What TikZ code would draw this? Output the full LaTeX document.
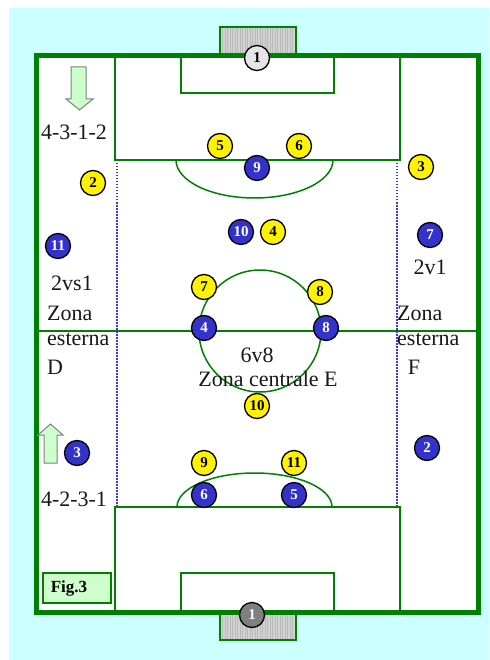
\documentclass[tikz,border=0pt]{standalone}
\usepackage{fontspec}
\setmainfont{Liberation Serif}
\definecolor{bgcyan}{HTML}{CCFFFF}
\definecolor{fgreen}{HTML}{008000}
\definecolor{pblue}{HTML}{3333CC}
\definecolor{zblue}{HTML}{3838E8}
\definecolor{agreen}{HTML}{CCFFCC}
\begin{document}
\begin{tikzpicture}[x=1pt,y=-1pt,
  fieldline/.style={draw=fgreen, line width=2pt},
  player/.style={circle, draw=black, line width=1.3pt, minimum size=25pt, inner sep=0pt,
    font=\fontsize{15}{15}\selectfont\bfseries},
  yel/.style={player, fill=yellow, text=black},
  blu/.style={player, fill=pblue, text=white},
  lbl/.style={font=\fontsize{22}{22}\selectfont, inner sep=0pt, text=black!90},
  zone/.style={draw=zblue, line width=1.2pt, dash pattern=on 1.5pt off 1.5pt},
  arrowshape/.style={draw=gray, fill=agreen, line width=1pt},
  figbox/.style={draw=fgreen, fill=agreen, line width=1.5pt, minimum height=30pt,
    text width=52pt, inner xsep=8pt, align=left, font=\fontsize{17}{17}\selectfont\bfseries}
]
\useasboundingbox (0,0) rectangle (489,660);
\fill[bgcyan] (9,8) rectangle (489,660);
% field
\fill[white] (36.5,55.5) rectangle (478.5,612);
% goals
\foreach \gy/\gh in {27/55.5,612/640}{
  \fill[gray!35] (220,\gy) rectangle (296,\gh);
  \foreach \sx in {222.5,225,...,294}{\draw[gray!55,line width=0.6pt] (\sx,\gy) -- (\sx,\gh);}
  \draw[fgreen,line width=2pt] (220,\gy) rectangle (296,\gh);
}
% zone lines
\draw[zone] (117,160) -- (117,507);
\draw[zone] (397,160) -- (397,507);
% penalty and goal areas
\draw[fieldline] (115,55.5) rectangle (400,160);
\draw[fieldline] (181,55.5) rectangle (334,93);
\draw[fieldline] (115,507) rectangle (400,612);
\draw[fieldline] (181,573) rectangle (334,612);
% arcs
\draw[fgreen,line width=1.5pt] (176,160) arc[start angle=180,end angle=360,x radius=78.5pt,y radius=38pt];
\draw[fgreen,line width=1.5pt] (177,507) arc[start angle=180,end angle=0,x radius=77.5pt,y radius=34pt];
% halfway line and centre circle
\draw[fieldline] (39,331) -- (476,331);
\draw[fgreen,line width=1.5pt] (260,331) circle[radius=61pt];
% border
\draw[fgreen,line width=5pt] (36.5,55.5) rectangle (478.5,612);
% arrows
\draw[arrowshape] (71,67) -- (86,67) -- (86,99) -- (93,99) -- (79.5,110) -- (66,99) -- (71,99) -- cycle;
\draw[arrowshape] (44,463) -- (57,463) -- (57,435) -- (63,435) -- (50.5,424) -- (38,435) -- (44,435) -- cycle;
% labels
\node[lbl] (f1) at (74,132) {4-3-1-2};
\node[lbl] (f2) at (74,499) {4-2-3-1};
\node[lbl] (t1) at (72,283) {2vs1};
\node[lbl,anchor=west] (zl1) at (47,313) {Zona};
\node[lbl,anchor=west] (zl2) at (47,339) {esterna};
\node[lbl,anchor=west] (zl3) at (47,367) {D};
\node[lbl] (t2) at (430,267) {2v1};
\node[lbl,anchor=west] (zr1) at (397,313) {Zona};
\node[lbl,anchor=west] (zr2) at (397,339) {esterna};
\node[lbl] (zr3) at (414,367) {F};
\node[lbl] (c1) at (257,355) {6v8};
\node[lbl] (c2) at (268,379) {Zona centrale E};
\node[figbox,anchor=west] (fig) at (42,588) {Fig.3};
% goalkeepers
\node[player, fill=gray!20, text=black] (gk1) at (257,58) {1};
\node[player, fill=gray!100, text=white] (gk2) at (252,615) {1};
% yellow team
\node[yel] (y2) at (93,183) {2};
\node[yel] (y3) at (421,167) {3};
\node[yel] (y5) at (220,146) {5};
\node[yel] (y6) at (299,146) {6};
\node[yel] (y4) at (273,232) {4};
\node[yel] (y7) at (204,287) {7};
\node[yel] (y8) at (320,292) {8};
\node[yel] (y10) at (257,406) {10};
\node[yel] (y9) at (204,463) {9};
\node[yel] (y11) at (294,463) {11};
% blue team
\node[blu] (b9) at (257,168) {9};
\node[blu] (b10) at (241,232) {10};
\node[blu] (b7) at (430,235) {7};
\node[blu] (b11) at (58,246) {11};
\node[blu] (b4) at (204,328) {4};
\node[blu] (b8) at (326,328) {8};
\node[blu] (b3) at (77,453) {3};
\node[blu] (b2) at (427,448) {2};
\node[blu] (b6) at (204,495) {6};
\node[blu] (b5) at (294,495) {5};
\end{tikzpicture}
\end{document}
